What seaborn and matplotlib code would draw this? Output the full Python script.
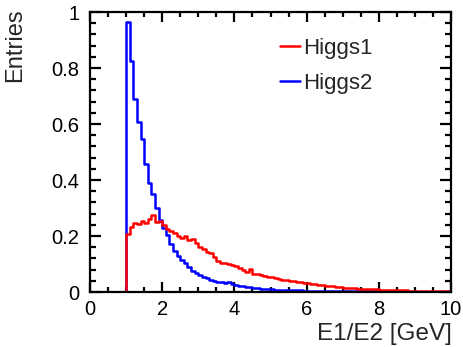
import numpy as np
import pandas as pd
import matplotlib
matplotlib.use("Agg")
import matplotlib.pyplot as plt
import seaborn as sns
from matplotlib.lines import Line2D
from matplotlib.ticker import MultipleLocator

# Bin edges: 100 bins of width 0.1 from 0 to 10
bin_edges = [round(0.1 * i, 2) for i in range(101)]
bin_centers = [round(0.1 * i + 0.05, 3) for i in range(100)]

# Bin contents (bins 0.0-0.9 are empty)
higgs1 = [0.0] * 10 + [
    0.206, 0.233, 0.248, 0.243, 0.254, 0.248, 0.261, 0.275, 0.251, 0.255,
    0.239, 0.224, 0.219, 0.210, 0.200, 0.192, 0.200, 0.186, 0.188, 0.174,
    0.160, 0.153, 0.144, 0.138, 0.125, 0.112, 0.104, 0.102, 0.100, 0.097,
    0.093, 0.085, 0.080, 0.071, 0.082, 0.066, 0.064, 0.062, 0.056, 0.054,
    0.052, 0.050, 0.047, 0.044, 0.042, 0.040, 0.038, 0.036, 0.034, 0.033,
    0.031, 0.029, 0.027, 0.025, 0.024, 0.022, 0.021, 0.020, 0.019, 0.018,
    0.016, 0.015, 0.014, 0.013, 0.012, 0.011, 0.011, 0.010, 0.009, 0.009,
    0.008, 0.008, 0.007, 0.007, 0.007, 0.006, 0.006, 0.006, 0.005, 0.005,
    0.005, 0.004, 0.004, 0.004, 0.004, 0.003, 0.003, 0.003, 0.003, 0.003,
]
higgs2 = [0.0] * 10 + [
    0.963, 0.825, 0.690, 0.607, 0.548, 0.456, 0.389, 0.351, 0.301, 0.257,
    0.228, 0.202, 0.172, 0.145, 0.128, 0.115, 0.104, 0.088, 0.076, 0.068,
    0.061, 0.053, 0.050, 0.044, 0.038, 0.037, 0.036, 0.031, 0.036, 0.030,
    0.025, 0.022, 0.021, 0.018, 0.017, 0.014, 0.013, 0.012, 0.011, 0.010,
    0.010, 0.008, 0.008, 0.007, 0.007, 0.007, 0.006, 0.006, 0.006, 0.005,
    0.005, 0.005, 0.005, 0.004, 0.004, 0.004, 0.004, 0.004, 0.003, 0.003,
    0.003, 0.003, 0.003, 0.003, 0.003, 0.002, 0.002, 0.002, 0.002, 0.002,
    0.002, 0.002, 0.002, 0.002, 0.002, 0.001, 0.001, 0.001, 0.001, 0.001,
    0.001, 0.001, 0.001, 0.001, 0.001, 0.001, 0.001, 0.001, 0.001, 0.001,
]
series_names = ["Higgs1", "Higgs2"]
series_colors = ["#ff0000", "#0000ff"]
x_label = "E1/E2 [GeV]"
y_label = "Entries"
y_tick_vals = [0, 0.2, 0.4, 0.6, 0.8, 1.0]
y_tick_labels = ["0", "0.2", "0.4", "0.6", "0.8", "1"]

sns.set_style("ticks")
plt.rcParams["font.family"] = ["Liberation Sans", "DejaVu Sans"]

W, H = 464, 347
fig = plt.figure(figsize=(W / 100, H / 100), dpi=100)
ax = fig.add_axes([90 / W, 1 - 292 / H, (451 - 90) / W, (292 - 12) / H])

df1 = pd.DataFrame({"x": bin_centers, "w": higgs1})
df2 = pd.DataFrame({"x": bin_centers, "w": higgs2})

sns.histplot(data=df2, x="x", weights="w", bins=bin_edges, element="step",
             fill=False, color=series_colors[1], linewidth=1.8, ax=ax)
sns.histplot(data=df1, x="x", weights="w", bins=bin_edges, element="step",
             fill=False, color=series_colors[0], linewidth=1.8, ax=ax)

ax.set_xlim(0, 10)
ax.set_ylim(0, 1.0)
ax.set_xlabel("")
ax.set_ylabel("")

ax.xaxis.set_major_locator(MultipleLocator(2))
ax.xaxis.set_minor_locator(MultipleLocator(0.5))
ax.set_yticks(y_tick_vals)
ax.set_yticklabels(y_tick_labels)
ax.yaxis.set_minor_locator(MultipleLocator(0.04))
ax.tick_params(which="both", direction="in", top=True, right=True,
               width=1.6, labelsize=14.5, colors="black")
ax.tick_params(axis="x", which="major", length=7, pad=6)
ax.tick_params(axis="x", which="minor", length=3.5)
ax.tick_params(axis="y", which="major", length=8, pad=7.5)
ax.tick_params(axis="y", which="minor", length=4)
for sp in ax.spines.values():
    sp.set_visible(True)
    sp.set_linewidth(1.6)
    sp.set_color("black")

fig.text(452 / W, 1 - 340 / H, x_label, ha="right", va="baseline", fontsize=17.5)
fig.text(4 / W, 1 - 8 / H, y_label, ha="left", va="top", rotation=90, fontsize=17)

handles = [Line2D([0], [0], color=c, lw=1.8) for c in series_colors]
ax.legend(handles, series_names, loc="center left",
          bbox_to_anchor=(280 / W, 1 - 66 / H), bbox_transform=fig.transFigure,
          frameon=False, fontsize=16, handlelength=0.9, handletextpad=0.15,
          labelspacing=0.65, borderpad=0, borderaxespad=0)

fig.savefig("out.png", dpi=100)
